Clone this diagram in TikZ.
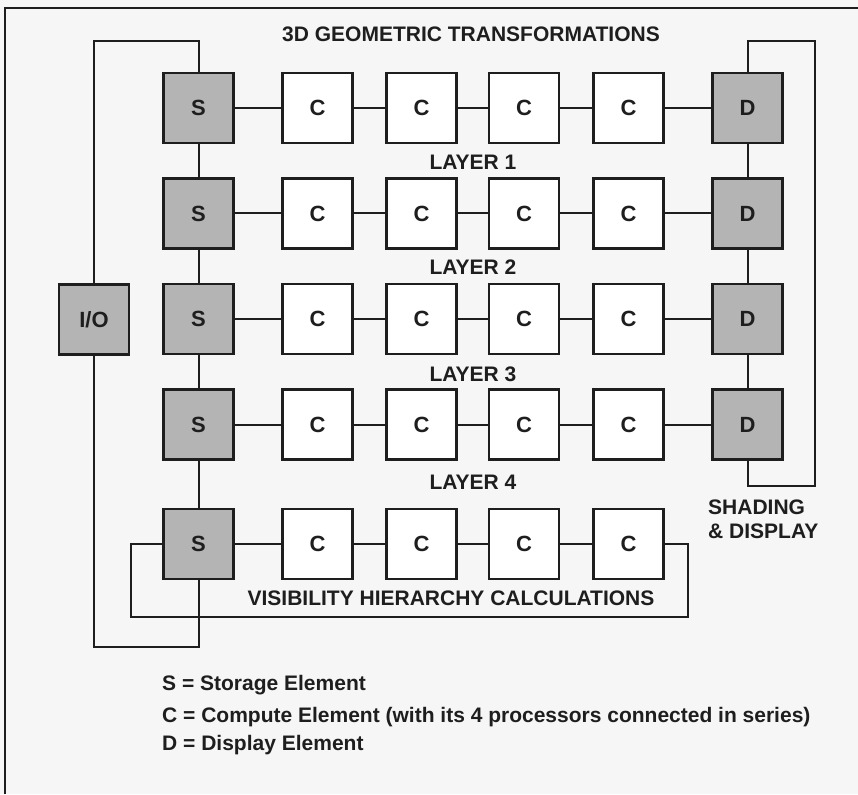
\documentclass[tikz,border=0pt]{standalone}
\usepackage{fontspec}
\setmainfont{Liberation Sans}
\definecolor{GridInk}{HTML}{1E1E1E}
\definecolor{GridGray}{HTML}{B4B4B4}
\definecolor{GridPaper}{HTML}{F6F6F6}
\tikzset{
  cellbox/.style={draw=GridInk, line width=2.6pt, minimum size=70pt, inner sep=0pt,
                  font=\fontsize{22}{24}\selectfont\bfseries\color{GridInk}},
  graycell/.style={cellbox, fill=GridGray},
  whitecell/.style={cellbox, fill=white},
  wire/.style={draw=GridInk, line width=2pt},
  caption/.style={font=\fontsize{21}{24}\selectfont\bfseries\color{GridInk}, inner sep=0pt},
  legend/.style={caption, anchor=base west},
}

\begin{document}
\begin{tikzpicture}[x=1pt, y=-1pt]
  \useasboundingbox (0,0) rectangle (858,794);
  \fill[GridPaper] (0,0) rectangle (858,794);
  \draw[GridInk, line width=1.6pt] (5,794) -- (5,8) -- (858,8);

  % storage and compute elements, one row per layer
  \foreach \r/\y in {1/108,2/213.5,3/319,4/424.5,5/544}{
    \node[graycell] (S\r) at (198.5,\y) {S};
    \foreach \c/\x in {1/317.5,2/421.5,3/524,4/628.5}
      \node[whitecell] (C\r\c) at (\x,\y) {C};
    \draw[wire] (S\r) -- (C\r1) -- (C\r2) -- (C\r3) -- (C\r4);
  }
  % display elements
  \foreach \r/\y in {1/108,2/213.5,3/319,4/424.5}{
    \node[graycell] (D\r) at (747.5,\y) {D};
    \draw[wire] (C\r4) -- (D\r);
  }
  \node[graycell] (io) at (94,319.5) {I/O};

  \draw[wire] (S1) -- (S2) -- (S3) -- (S4) -- (S5);
  \draw[wire] (D1) -- (D2) -- (D3) -- (D4);

  % I/O ring and feedback loops
  \coordinate (ioTop) at (150,41);
  \coordinate (ioBot) at (150,647);
  \coordinate (loopL) at (131,617);
  \coordinate (loopR) at (688,617);
  \coordinate (dTop) at (815,41);
  \coordinate (dBot) at (815,486);
  \draw[wire] (io.north) |- (ioTop) -| (S1.north);
  \draw[wire] (io.south) |- (ioBot) -| (S5.south);
  \draw[wire] (C54.east) -| (loopR) -- (loopL) |- (S5.west);
  \draw[wire] (D1.north) |- (dTop) -- (dBot) -| (D4.south);

  % labels
  \node[caption] (title) at (471,34) {3D GEOMETRIC TRANSFORMATIONS};
  \node[caption] (lay1) at (473,162) {LAYER 1};
  \node[caption] (lay2) at (473,267) {LAYER 2};
  \node[caption] (lay3) at (473,374) {LAYER 3};
  \node[caption] (lay4) at (473,482) {LAYER 4};
  \node[caption] (vis) at (451,598) {VISIBILITY HIERARCHY CALCULATIONS};
  \node[caption, anchor=north west, align=left, font=\fontsize{21}{24}\selectfont\bfseries\color{GridInk}]
    (shade) at (708,500) {SHADING\\\& DISPLAY};

  % key
  \node[legend] (keyS) at (162,690) {S = Storage Element};
  \node[legend] (keyC) at (162,722) {C = Compute Element (with its 4 processors connected in series)};
  \node[legend] (keyD) at (162,750) {D = Display Element};
\end{tikzpicture}
\end{document}
